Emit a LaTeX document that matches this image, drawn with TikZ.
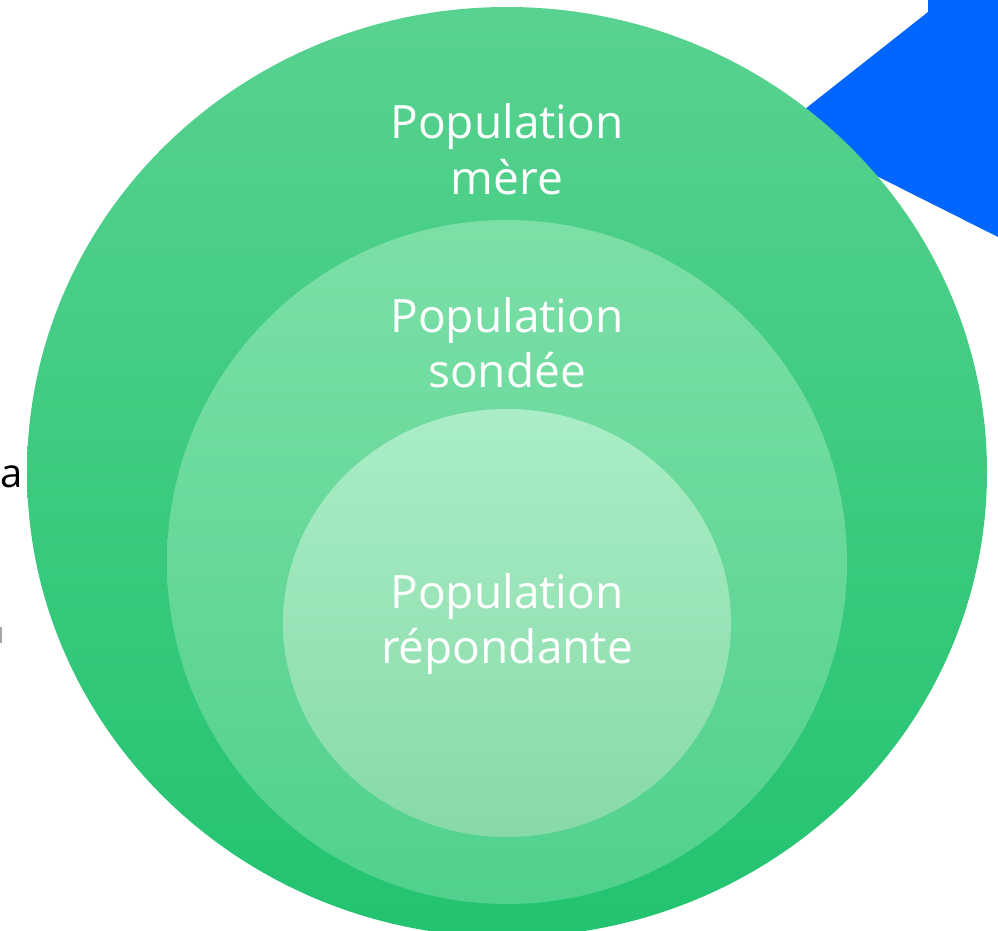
\documentclass[tikz,border=0pt]{standalone}
\usepackage{fontspec}
\setmainfont{Open Sans}
\usetikzlibrary{shapes.geometric}
\definecolor{bluearrow}{HTML}{0066FF}
\definecolor{outtop}{HTML}{58D290}
\definecolor{outbot}{HTML}{22C370}
\definecolor{midtop}{HTML}{7CDFA7}
\definecolor{midbot}{HTML}{50D18D}
\definecolor{intop}{HTML}{AAEDC6}
\definecolor{inbot}{HTML}{87DAA8}
\tikzset{
  lbl/.style={text=white, font=\fontsize{46}{55}\selectfont, align=center, inner sep=0pt, anchor=base},
  disc/.style={ellipse, draw=none, inner sep=0pt}
}
\begin{document}
\begin{tikzpicture}[x=1pt,y=-1pt]
\useasboundingbox (0,0) rectangle (998,931);
\clip (0,0) rectangle (998,931);
% blue arrow behind
\fill[bluearrow] (928,-20) -- (928,12) -- (781,128) -- (1020,248) -- (1020,-20) -- cycle;
% circles
\node[disc, minimum width=960pt, minimum height=930pt, top color=outtop, bottom color=outbot] (outer) at (507,472) {};
\node[disc, minimum width=680pt, minimum height=684pt, top color=midtop, bottom color=midbot] (middle) at (507,562) {};
\node[disc, minimum width=448pt, minimum height=428pt, top color=intop, bottom color=inbot] (inner) at (507,623) {};
% labels
\node[lbl] (t1a) at (507,139) {Population};
\node[lbl] (t1b) at (507,194) {mère};
\node[lbl] (t2a) at (507,332) {Population};
\node[lbl] (t2b) at (507,387) {sondée};
\node[lbl] (t3a) at (507,608) {Population};
\node[lbl] (t3b) at (507,663) {répondante};
% text at left edge
\node[anchor=base west, inner sep=0pt, font=\fontsize{40}{48}\selectfont] (ta) at (0.5,487) {a};
\fill[black!35] (0,627) rectangle (1.6,643);
\end{tikzpicture}
\end{document}
